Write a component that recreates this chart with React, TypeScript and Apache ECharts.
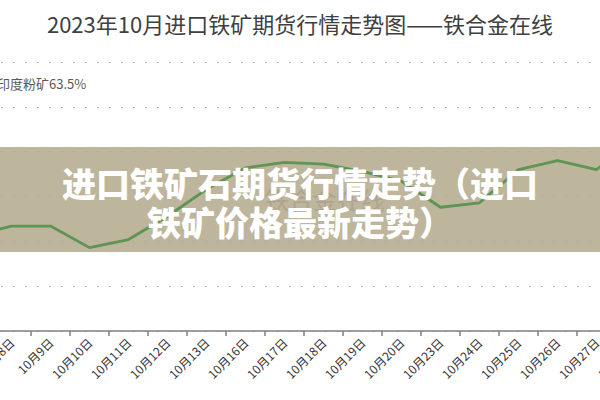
import React, { useEffect, useRef } from "react";
import * as echarts from "echarts";

const categories = [
  "9月28日", "10月8日", "10月9日", "10月10日", "10月11日", "10月12日", "10月13日",
  "10月16日", "10月17日", "10月18日", "10月19日", "10月20日", "10月23日",
  "10月24日", "10月25日", "10月26日", "10月27日", "10月30日",
];
const seriesName = "印度粉矿63.5%";
const values = [806, 817, 817, 793, 802, 828, 858, 882, 888, 886, 878, 867, 838, 843, 880, 890, 880, 913];
const yMin = 700;
const yMax = 1000;
const yInterval = 50;
const titleText = "2023年10月进口铁矿期货行情走势图——铁合金在线";
const overlayLines = ["进口铁矿石期货行情走势（进口", "铁矿价格最新走势）"];
const watermark = "铁合金在线";

const FONT = "'Noto Sans CJK SC', 'Noto Sans', sans-serif";

export default function App() {
  const ref = useRef<HTMLDivElement>(null);
  useEffect(() => {
    document.body.style.margin = "0";
    const chart = echarts.init(ref.current!, undefined, { renderer: "svg" });
    chart.setOption({
      animation: false,
      backgroundColor: "#ffffff",
      title: {
        text: titleText,
        left: "center",
        top: 7,
        textStyle: { fontFamily: FONT, fontSize: 22, fontWeight: "normal", color: "#404040" },
      },
      grid: {
        left: -47,
        right: -55,
        top: 62,
        bottom: 69,
        containLabel: false,
        outerBoundsMode: "none",
      },
      xAxis: {
        type: "category",
        data: categories,
        boundaryGap: true,
        axisLine: { lineStyle: { color: "#7f7f7f", width: 1.5 } },
        axisTick: { show: true, length: 5, alignWithLabel: false, lineStyle: { color: "#7f7f7f", width: 1.5 } },
        axisLabel: {
          rotate: 45,
          interval: 0,
          margin: 9,
          fontFamily: FONT,
          fontSize: 12,
          color: "#333333",
        },
      },
      yAxis: {
        type: "value",
        min: yMin,
        max: yMax,
        interval: yInterval,
        axisLabel: { show: false },
        axisLine: { show: false },
        axisTick: { show: false },
        splitLine: { lineStyle: { color: "#a6a6a6", type: [1.5, 10.5], width: 1.2 } },
      },
      series: [
        {
          name: seriesName,
          type: "line",
          data: values,
          symbol: "none",
          z: 3,
          lineStyle: { color: "#5f9455", width: 2.8 },
        },
      ],
      graphic: [
        {
          type: "rect",
          z: -5,
          silent: true,
          shape: { x: 0, y: 147, width: 600, height: 105 },
          style: { fill: "#bdb69c" },
        },
        {
          type: "text",
          z: 5,
          x: -3,
          y: 83,
          style: {
            text: seriesName,
            fontFamily: FONT,
            fontSize: 13,
            fill: "#595959",
            verticalAlign: "middle",
          },
        },
        {
          type: "text",
          z: 8,
          x: 325,
          y: 198,
          style: {
            text: watermark,
            fontFamily: FONT,
            fontSize: 24,
            fill: "rgba(160,140,130,0.45)",
            align: "center",
            verticalAlign: "middle",
          },
        },
        {
          type: "text",
          z: 10,
          x: 300,
          y: 182,
          style: {
            text: overlayLines[0],
            fontFamily: FONT,
            fontSize: 34,
            fontWeight: 900,
            fill: "#ffffff",
            align: "center",
            verticalAlign: "middle",
          },
        },
        {
          type: "text",
          z: 10,
          x: 300,
          y: 221,
          style: {
            text: overlayLines[1],
            fontFamily: FONT,
            fontSize: 34,
            fontWeight: 900,
            fill: "#ffffff",
            align: "center",
            verticalAlign: "middle",
          },
        },
      ],
    });
    return () => chart.dispose();
  }, []);
  return <div ref={ref} style={{ width: 600, height: 400 }} />;
}
